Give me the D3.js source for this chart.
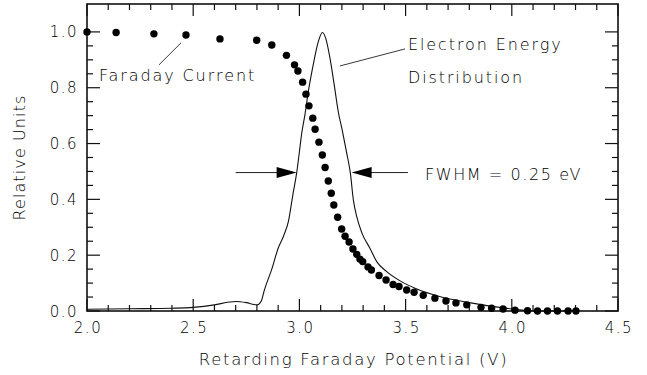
<!DOCTYPE html>
<html>
<head>
<meta charset="utf-8">
<script src="https://cdn.jsdelivr.net/npm/d3@7"></script>
<style>
  body { margin: 0; background: #fff; }
  text { font-family: "DejaVu Sans", sans-serif; font-weight: 200; fill: #000; }
</style>
</head>
<body>
<svg id="chart" width="647" height="375"></svg>
<script>
// Faraday current (dots)
var currentX = [2.000, 2.137, 2.315, 2.466, 2.626, 2.799, 2.870, 2.939, 2.977, 2.993,
  3.015, 3.031, 3.045, 3.063, 3.074, 3.092, 3.108, 3.121, 3.136, 3.150,
  3.162, 3.180, 3.199, 3.215, 3.234, 3.252, 3.270, 3.285, 3.298, 3.323,
  3.339, 3.375, 3.408, 3.441, 3.469, 3.505, 3.540, 3.583, 3.638, 3.690,
  3.737, 3.788, 3.855, 3.905, 3.959, 4.015, 4.074, 4.121, 4.168, 4.215,
  4.265, 4.302];
var currentY = [1.000, 0.998, 0.993, 0.989, 0.975, 0.970, 0.953, 0.916, 0.882, 0.860,
  0.820, 0.777, 0.735, 0.691, 0.651, 0.605, 0.559, 0.514, 0.466, 0.422,
  0.380, 0.336, 0.294, 0.268, 0.247, 0.222, 0.203, 0.186, 0.177, 0.158,
  0.147, 0.127, 0.111, 0.095, 0.088, 0.075, 0.067, 0.056, 0.046, 0.036,
  0.029, 0.022, 0.013, 0.010, 0.007, 0.003, 0.001, 0.000, 0.000, 0.000,
  0.000, 0.000];

// electron energy distribution (line)
var energyX = [2.00, 2.20, 2.40, 2.50, 2.60, 2.67, 2.70, 2.75, 2.80, 2.82,
  2.835, 2.87, 2.90, 2.925, 2.948, 2.97, 2.987, 3.003, 3.011, 3.026,
  3.042, 3.065, 3.089, 3.108, 3.124, 3.144, 3.164, 3.183, 3.203, 3.223,
  3.240, 3.254, 3.270, 3.295, 3.332, 3.364, 3.411, 3.474, 3.55, 3.66,
  3.80, 3.95, 4.05, 4.10, 4.30];
var energyY = [0.006, 0.008, 0.010, 0.013, 0.022, 0.032, 0.034, 0.030, 0.022, 0.035,
  0.075, 0.150, 0.225, 0.268, 0.320, 0.420, 0.494, 0.589, 0.637, 0.703,
  0.786, 0.882, 0.965, 0.998, 0.977, 0.906, 0.810, 0.714, 0.643, 0.565,
  0.494, 0.398, 0.338, 0.278, 0.225, 0.177, 0.141, 0.108, 0.080, 0.052,
  0.030, 0.012, 0.003, 0.000, 0.000];

var xTicks = [2.0, 2.5, 3.0, 3.5, 4.0, 4.5];
var yTicks = [0.0, 0.2, 0.4, 0.6, 0.8, 1.0];

var svg = d3.select('#chart');
var margin = { top: 4, right: 29, bottom: 64, left: 87 };
var width = 647 - margin.left - margin.right,
  height = 375 - margin.top - margin.bottom;

var x = d3.scaleLinear().domain([2.0, 4.5]).range([0, width]);
var y = d3.scaleLinear().domain([0, 1.1]).range([height, 0]);

var g = svg.append('g').attr('transform', `translate(${margin.left},${margin.top})`);

// minor / major ticks, all pointing inward
var xMinor = d3.range(20, 46).map(d => d / 10);
var yMinor = d3.range(0, 21).map(d => d / 20);
function isMajor(v, step) { return Math.abs(v / step - Math.round(v / step)) < 1e-6; }

var ticks = g.append('g').attr('stroke', '#111').attr('stroke-width', 1.2);
xMinor.forEach(function(v) {
  var len = isMajor(v, 0.5) ? 12 : 6;
  ticks.append('line').attr('x1', x(v)).attr('x2', x(v)).attr('y1', height).attr('y2', height - len);
  ticks.append('line').attr('x1', x(v)).attr('x2', x(v)).attr('y1', 0).attr('y2', len);
});
yMinor.forEach(function(v) {
  var len = isMajor(v, 0.2) ? 13 : 6;
  ticks.append('line').attr('y1', y(v)).attr('y2', y(v)).attr('x1', 0).attr('x2', len);
  ticks.append('line').attr('y1', y(v)).attr('y2', y(v)).attr('x1', width).attr('x2', width - len);
});

// frame
g.append('rect')
  .attr('width', width).attr('height', height)
  .attr('fill', 'none').attr('stroke', '#111').attr('stroke-width', 1.6);

// tick labels
g.selectAll('text.xt').data(xTicks).enter().append('text')
  .attr('class', 'xt')
  .attr('x', d => x(d) + 1).attr('y', height + 22)
  .attr('text-anchor', 'middle')
  .style('font-size', '15px').style('letter-spacing', '1.5px')
  .text(d => d.toFixed(1));

g.selectAll('text.yt').data(yTicks).enter().append('text')
  .attr('class', 'yt')
  .attr('x', -9).attr('y', d => y(d) + 5.5)
  .attr('text-anchor', 'end')
  .style('font-size', '15px').style('letter-spacing', '1.5px')
  .text(d => d.toFixed(1));

// axis titles
g.append('text')
  .attr('x', width / 2 + 1).attr('y', height + 54)
  .attr('text-anchor', 'middle')
  .style('font-size', '16.5px').style('letter-spacing', '1.7px')
  .text('Retarding Faraday Potential (V)');

g.append('text')
  .attr('transform', `translate(${-62},${height / 2}) rotate(-90)`)
  .attr('text-anchor', 'middle')
  .style('font-size', '16px').style('letter-spacing', '1.1px')
  .text('Relative Units');

// distribution curve
var line = d3.line()
  .x((d, i) => x(energyX[i]))
  .y(d => y(d))
  .curve(d3.curveMonotoneX);

g.append('path')
  .datum(energyY)
  .attr('d', line)
  .attr('fill', 'none')
  .attr('stroke', '#111')
  .attr('stroke-width', 1.1);

// faraday current dots
g.selectAll('circle.dot').data(currentY).enter().append('circle')
  .attr('class', 'dot')
  .attr('cx', (d, i) => x(currentX[i]))
  .attr('cy', d => y(d))
  .attr('r', 3.7)
  .attr('fill', '#000');

// annotations
var notes = g.append('g');
var noteFont = '16px', noteSpacing = '1.9px';
notes.append('line')
  .attr('x1', x(2.339)).attr('y1', y(0.882))
  .attr('x2', x(2.443)).attr('y2', y(0.961))
  .attr('stroke', '#222').attr('stroke-width', 0.9);
notes.append('text')
  .attr('x', x(2.056)).attr('y', y(0.823))
  .style('font-size', noteFont).style('letter-spacing', noteSpacing)
  .text('Faraday Current');

notes.append('line')
  .attr('x1', x(3.191)).attr('y1', y(0.878))
  .attr('x2', x(3.497)).attr('y2', y(0.939))
  .attr('stroke', '#222').attr('stroke-width', 0.9);
notes.append('text')
  .attr('x', x(3.511)).attr('y', y(0.934))
  .style('font-size', noteFont).style('letter-spacing', noteSpacing)
  .text('Electron Energy');
notes.append('text')
  .attr('x', x(3.511)).attr('y', y(0.816))
  .style('font-size', noteFont).style('letter-spacing', noteSpacing)
  .text('Distribution');

// FWHM arrows
var half = 0.496;
function arrow(from, to) {
  var dir = to > from ? 1 : -1;
  notes.append('line')
    .attr('x1', x(from)).attr('y1', y(half))
    .attr('x2', x(to) - dir * 18).attr('y2', y(half))
    .attr('stroke', '#222').attr('stroke-width', 1);
  var tx = x(to), ty = y(half);
  notes.append('path')
    .attr('d', `M${tx},${ty}L${tx - dir * 20},${ty - 5.5}L${tx - dir * 20},${ty + 5.5}Z`)
    .attr('fill', '#000');
}
arrow(2.70, 2.987);
arrow(3.511, 3.246);

notes.append('text')
  .attr('x', x(3.591)).attr('y', y(0.47))
  .style('font-size', noteFont).style('letter-spacing', '1.6px')
  .text('FWHM = 0.25 eV');
</script>
</body>
</html>
